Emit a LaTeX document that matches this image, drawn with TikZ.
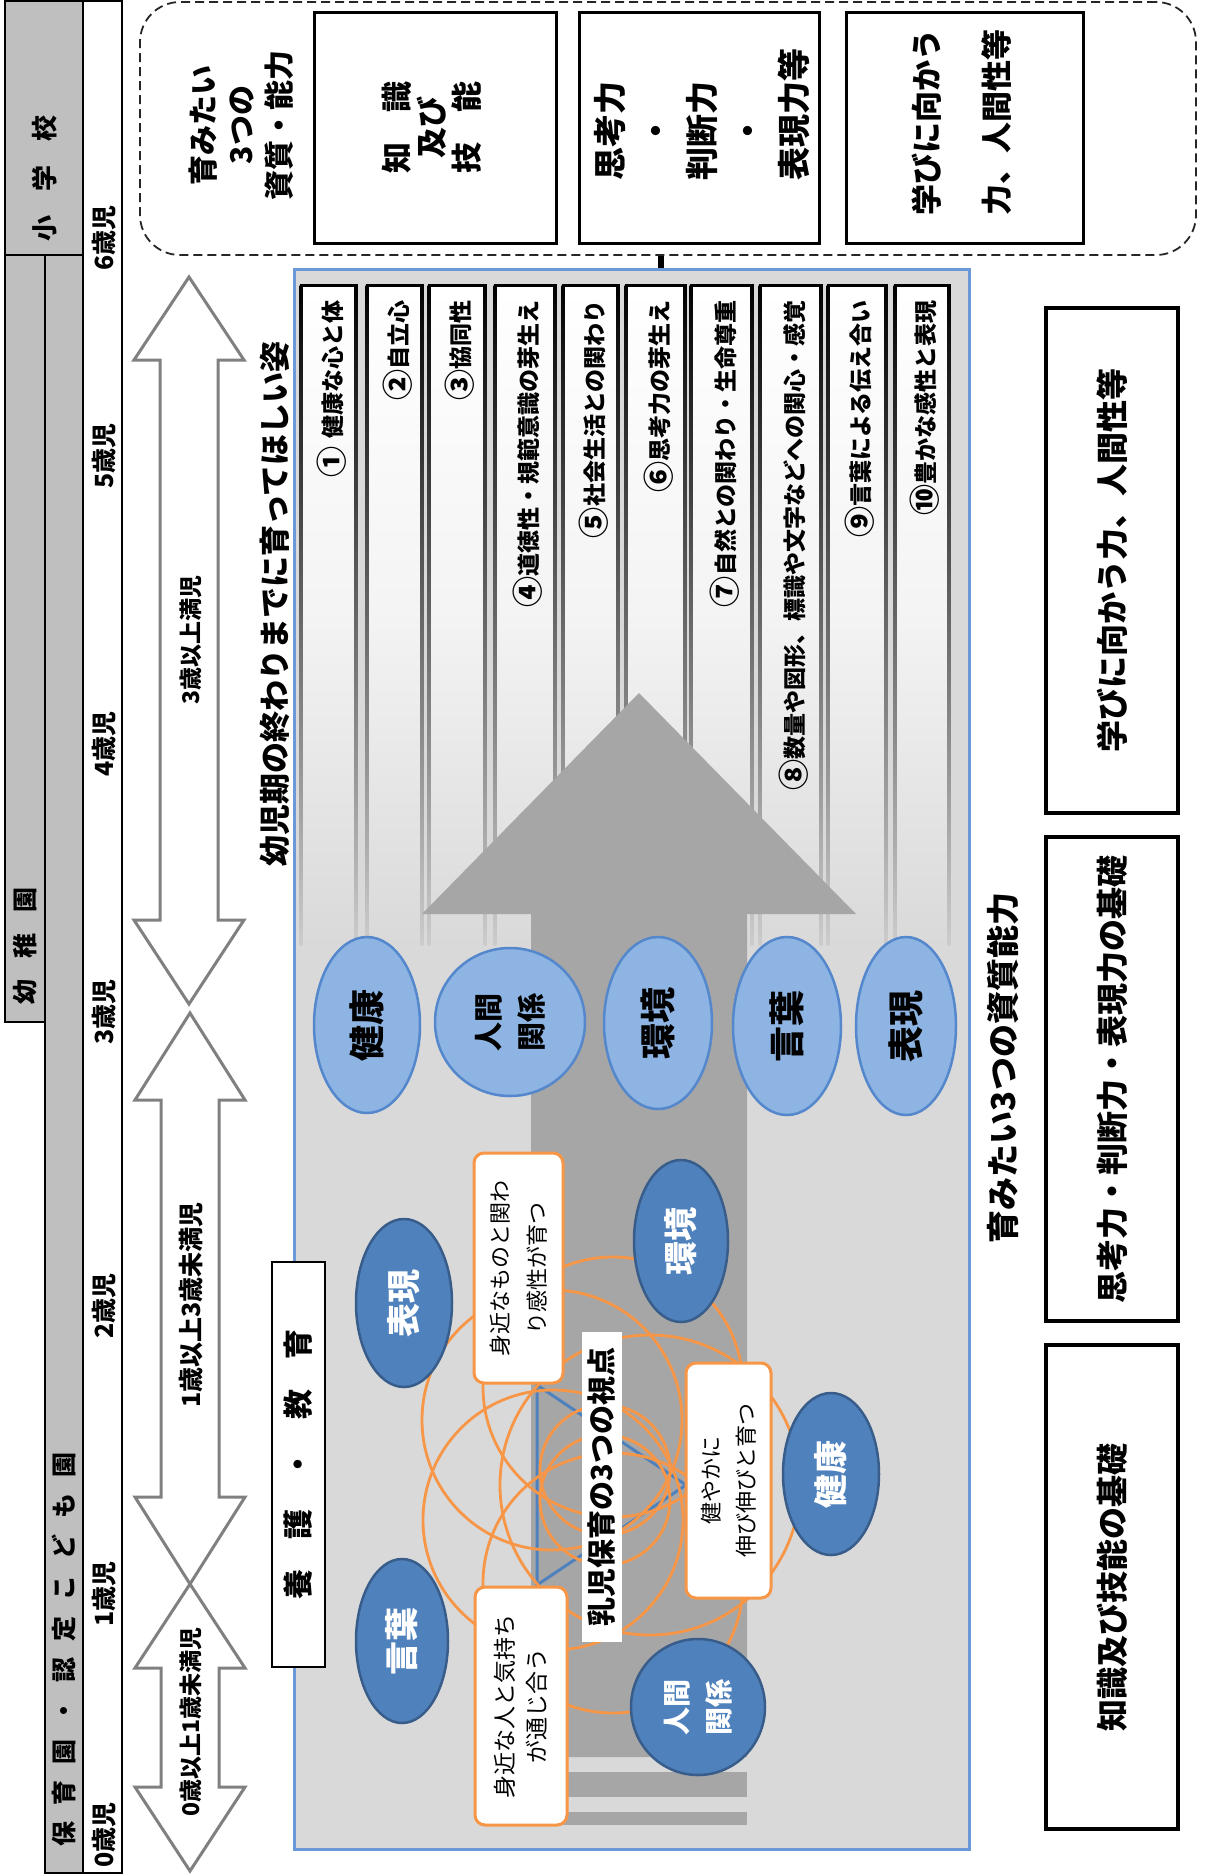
\documentclass[tikz,border=0pt]{standalone}
\usepackage{fontspec}
\usepackage{graphicx}
\setmainfont{Noto Sans CJK JP}
\usetikzlibrary{shapes.geometric,calc}
\definecolor{hdrgray}{RGB}{191,191,191}
\definecolor{bggray}{RGB}{217,217,217}
\definecolor{arrgray}{RGB}{166,166,166}
\definecolor{mainblue}{RGB}{106,152,216}
\definecolor{lblue}{RGB}{141,180,226}
\definecolor{lblueedge}{RGB}{84,135,204}
\definecolor{dblue}{RGB}{79,129,189}
\definecolor{dblueedge}{RGB}{56,93,138}
\definecolor{orng}{RGB}{247,150,70}
\definecolor{tlgray}{RGB}{128,128,128}
\newcommand\jfs[2]{\fontsize{#1pt}{#2pt}\selectfont}
\newcommand\jgap[1]{\hspace{#1pt}}
\newcommand\cnum[1]{\raisebox{-0.1em}{\scalebox{1.35}{#1}}}
\begin{document}
\begin{tikzpicture}[x=1pt,y=-1pt,
  rtext/.style={rotate=90,inner sep=0pt},
  topbox/.style={draw,line width=3pt,fill=white,rotate=90,inner sep=0pt},
  rbox/.style={draw,line width=3.5pt,fill=white,rotate=90,inner sep=0pt,font=\jfs{32}{38}\bfseries},
  lell/.style={ellipse,draw=lblueedge,fill=lblue,line width=2.5pt,rotate=90,inner sep=0pt,align=center},
  dell/.style={ellipse,draw=dblueedge,fill=dblue,line width=2.5pt,rotate=90,inner sep=0pt,text=white,align=center},
  obox/.style={draw=orng,line width=3pt,fill=white,rounded corners=10pt,rotate=90,inner sep=0pt,align=center},
  tlarrow/.style={draw=tlgray,line width=3pt,fill=white,line join=miter},
  orc/.style={draw=orng,line width=2.8pt}
]
\useasboundingbox[fill=white] (0,0) rectangle (1205,1875);

% ---------- left header columns ----------
\draw[line width=2pt,fill=hdrgray] (5,1) rectangle (83,255);
\draw[line width=2pt,fill=hdrgray] (5,255) rectangle (45,1022);
\draw[line width=2pt,fill=hdrgray] (45,255) rectangle (83,1873);
\draw[line width=2pt,fill=white] (83,1) rectangle (122,1873);
\node[rtext,font=\jfs{26}{30}\bfseries] (hsho) at (45,178) {小\jgap{24}学\jgap{24}校};
\node[rtext,font=\jfs{25}{30}\bfseries] (hyo) at (25,946) {幼\jgap{21}稚\jgap{21}園};
\node[rtext,font=\jfs{25}{30}\bfseries] (hho) at (64,1649) {保\jgap{16}育\jgap{16}園\jgap{16}・\jgap{16}認\jgap{16}定\jgap{16}こ\jgap{16}ど\jgap{16}も\jgap{16}園};
\foreach \yy/\tt [count=\i] in {238/6,456/5,744/4,1012/3,1306/2,1594/1,1835/0}
  \node[rtext,font=\jfs{25}{30}\bfseries] (age\i) at (104,\yy) {\tt 歳児};

% ---------- timeline arrows ----------
\draw[tlarrow] (189,277) -- (244,360) -- (218,360) -- (218,920) -- (244,920) -- (189,1004) -- (134,920) -- (160,920) -- (160,360) -- (134,360) -- cycle;
\draw[tlarrow] (190,1013) -- (245,1100) -- (219,1100) -- (219,1497) -- (245,1497) -- (190,1584) -- (135,1497) -- (161,1497) -- (161,1100) -- (135,1100) -- cycle;
\draw[tlarrow] (190,1584) -- (245,1668) -- (219,1668) -- (219,1787) -- (245,1787) -- (190,1871) -- (135,1787) -- (161,1787) -- (161,1668) -- (135,1668) -- cycle;
\node[rtext,font=\jfs{23}{26}\bfseries] (lab3) at (191,640) {3歳以上満児};
\node[rtext,font=\jfs{25}{28}\bfseries] (lab1) at (191,1305) {1歳以上3歳未満児};
\node[rtext,font=\jfs{23}{26}\bfseries] (lab0) at (191,1722) {0歳以上1歳未満児};

% ---------- top dashed area ----------
\node[draw=black!85,dash pattern=on 9pt off 5pt,line width=1.8pt,rounded corners=40pt,minimum width=1056pt,minimum height=253pt,inner sep=0pt] (qualbox) at (668,128.5) {};
\node[rtext,font=\jfs{30}{38}\bfseries,align=center] (qualtxt) at (241,125) {育みたい\\3つの\\資質・能力};
\node[topbox,minimum width=231pt,minimum height=242pt] (tb1) at (435,127.5) {};
\node[topbox,minimum width=231pt,minimum height=240pt] (tb2) at (699,127.5) {};
\node[topbox,minimum width=231pt,minimum height=237pt] (tb3) at (964.5,127.5) {};
\node[rtext,font=\jfs{31}{35}\bfseries,align=center] (tb1t) at (432,127) {知\jgap{30}識\\及び\\技\jgap{30}能};
\node[rtext,font=\jfs{33}{46}\bfseries,align=left] (tb2t) at (702,114) {思考力\\\hspace*{33pt}・\\判断力\\\hspace*{33pt}・\\表現力等};
\node[rtext,font=\jfs{31}{70}\bfseries,align=center] (tb3t) at (962,122) {学びに向かう\\力、人間性等};

% ---------- main box ----------
\node[draw=mainblue,line width=3pt,fill=bggray,minimum width=675pt,minimum height=1580pt,anchor=north west,inner sep=0pt] (mainbox) at (293,268) {};
\coordinate (cx) at (661,0);
\draw[line width=6pt] (qualbox.south -| cx) -- (mainbox.north -| cx);

% strips
\foreach \l/\r/\t [count=\i] in {301/356/{\cnum{①}\hspace{8pt}健康な心と体},367/422/{\cnum{②}自立心},429/485/{\cnum{③}協同性},495/555/{\cnum{④}道徳性・規範意識の芽生え},563/618/{\cnum{⑤}社会生活との関わり},626/685/{\cnum{⑥}思考力の芽生え},691/752/{\cnum{⑦}自然との関わり・生命尊重},760/821/{\cnum{⑧}数量や図形、標識や文字などへの関心・感覚},828/886/{\cnum{⑨}言葉による伝え合い},895/949/{\cnum{⑩}豊かな感性と表現}}{
  \shade[top color=white,bottom color=bggray,middle color=white!70!bggray] (\l,285) rectangle (\r,945);
  \shade[top color=black,bottom color=black!20] (\l-1.5,285) rectangle (\l+1.5,945);
  \shade[top color=black,bottom color=black!20] (\r-1.5,285) rectangle (\r+1.5,945);
  \fill[black] (\l-1.5,283.5) rectangle (\r+1.5,286.5);
  \node[rtext,anchor=east,font=\jfs{23}{28}\bfseries] (s\i) at ({(\l+\r)/2+3},300) {\t};
}

% big arrow
\fill[arrgray] (639,693) -- (856,914) -- (747,914) -- (747,1757) -- (531,1757) -- (531,914) -- (422,914) -- cycle;
\fill[arrgray] (531,1772) rectangle (747,1797);
\fill[arrgray] (531,1812) rectangle (747,1825);

% title
\node[rtext,font=\jfs{31}{36}\bfseries] (title) at (275,604) {幼児期の終わりまでに育ってほしい姿};

% five domains (light)
\node[lell,minimum width=176pt,minimum height=106pt,font=\jfs{36}{40}\bfseries] (l1) at (367,1025) {健康};
\node[lell,minimum width=148pt,minimum height=150pt,font=\jfs{29}{43}\bfseries] (l2) at (510,1022) {人間\\関係};
\node[lell,minimum width=172pt,minimum height=108pt,font=\jfs{36}{40}\bfseries] (l3) at (658,1023) {環境};
\node[lell,minimum width=178pt,minimum height=108pt,font=\jfs{36}{40}\bfseries] (l4) at (787,1026) {言葉};
\node[lell,minimum width=178pt,minimum height=100pt,font=\jfs{36}{40}\bfseries] (l5) at (906,1026) {表現};

% triangle
\draw[dblue,line width=3pt] (537,1385) -- (537,1585) -- (686,1485) -- cycle;

% orange circles
\draw[orc] (613,1387) circle[radius=130];
\draw[orc] (613,1583) circle[radius=130];
\draw[orc] (552,1420) circle[radius=130];
\draw[orc] (553,1520) circle[radius=130];
\draw[orc] (650,1485) circle[radius=150];
\draw[orc] (605,1470) circle[radius=65];
\draw[orc] (605,1500) circle[radius=65];

% orange boxes
\node[obox,minimum width=230pt,minimum height=89pt,font=\jfs{22}{37}] (ob1) at (518.5,1268) {身近なものと関わ\\り感性が育つ};
\node[obox,minimum width=235pt,minimum height=85pt,font=\jfs{22}{35}] (ob2) at (728.5,1480.5) {健やかに\\伸び伸びと育つ};
\node[obox,minimum width=238pt,minimum height=92pt,font=\jfs{23}{32}] (ob3) at (521,1706) {身近な人と気持ち\\が通じ合う};

% dark ellipses
\node[dell,minimum width=168pt,minimum height=96pt,font=\jfs{34}{40}\bfseries] (d1) at (404,1303) {表現};
\node[dell,minimum width=162pt,minimum height=94pt,font=\jfs{34}{40}\bfseries] (d2) at (681,1241) {環境};
\node[dell,minimum width=162pt,minimum height=96pt,font=\jfs{34}{40}\bfseries] (d3) at (831,1474) {健康};
\node[dell,minimum width=164pt,minimum height=92pt,font=\jfs{34}{40}\bfseries] (d4) at (402,1641) {言葉};
\node[dell,minimum width=136pt,minimum height=134pt,font=\jfs{28}{42}\bfseries] (d5) at (698,1707) {人間\\関係};

% label
\node[rtext,fill=white,minimum width=310pt,minimum height=40pt,font=\jfs{29}{34}\bfseries] (nyuji) at (602,1487) {乳児保育の3つの視点};

% yogo box
\node[draw,line width=1.2pt,fill=white,rotate=90,inner sep=0pt,minimum width=405pt,minimum height=53pt,font=\jfs{30}{36}\bfseries] (yogo) at (298.5,1464.5) {養\jgap{30}護\jgap{30}・\jgap{30}教\jgap{30}育};

% ---------- right side ----------
\node[rtext,font=\jfs{33}{38}\bfseries] (rlab) at (1003,1068) {育みたい3つの資質能力};
\node[rbox,minimum width=505pt,minimum height=132pt] (r1) at (1112,560.5) {学びに向かう力、人間性等};
\node[rbox,minimum width=484pt,minimum height=132pt] (r2) at (1112,1079) {思考力・判断力・表現力の基礎};
\node[rbox,minimum width=484pt,minimum height=132pt] (r3) at (1112,1587) {知識及び技能の基礎};
\end{tikzpicture}
\end{document}
